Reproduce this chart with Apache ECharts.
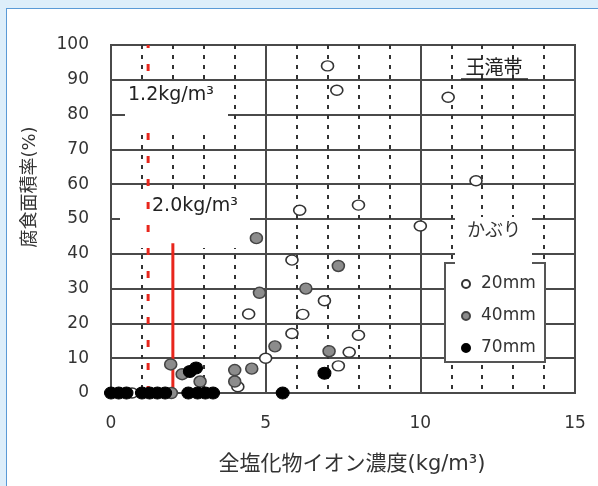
<!DOCTYPE html>
<html>
<head>
<meta charset="utf-8">
<script src="https://cdn.jsdelivr.net/npm/echarts@6/dist/echarts.min.js"></script>
<style>
  body { margin: 0; }
  #wrap { position: relative; width: 598px; height: 486px; background: #ddeefa; overflow: hidden; }
  #panel { position: absolute; left: 6px; top: 8px; width: 600px; height: 490px; background: #fff; border: 1px solid #5a9ad6; }
  #chart { position: absolute; left: 0; top: 0; width: 598px; height: 486px; }
</style>
</head>
<body>
<div id="wrap">
  <div id="panel"></div>
  <div id="chart"></div>
</div>
<script>
// かぶり 20mm / 40mm / 70mm  [全塩化物イオン濃度, 腐食面積率]
var cover20 = [
  [7.0, 94], [7.3, 87], [10.9, 85], [11.8, 61], [8.0, 54], [6.1, 52.5], [10.0, 48],
  [5.85, 38.2], [6.9, 26.5], [6.2, 22.6], [4.45, 22.7], [5.85, 17.1], [8.0, 16.6],
  [5.0, 10], [7.7, 11.7], [7.35, 7.8], [4.1, 1.8], [0.68, 0]
];
var cover40 = [
  [4.7, 44.5], [4.8, 28.8], [6.3, 30], [7.35, 36.5], [5.3, 13.4], [7.05, 12],
  [4.0, 6.6], [4.55, 7], [4.0, 3.3], [1.93, 8.2], [2.3, 5.4], [2.88, 3.3], [1.95, 0]
];
var cover70 = [
  [0, 0], [0.25, 0], [0.5, 0], [1.0, 0], [1.25, 0], [1.5, 0], [1.75, 0],
  [2.5, 0], [2.8, 0], [3.05, 0], [3.3, 0], [5.55, 0], [6.9, 5.7], [2.55, 6.2], [2.75, 7.2]
];
// 基準線 1.2kg/m3 (破線) と 2.0kg/m3 (実線)
var limit12 = [[1.2, 0], [1.2, 100]];
var limit20 = [[2.0, 0], [2.0, 43]];

var seriesNames = ['20mm', '40mm', '70mm'];
var xTicks = { min: 0, max: 15, step: 5 };
var yTicks = { min: 0, max: 100, step: 10 };

var numFont = 'DejaVu Sans';
var jpFont = 'DejaVu Sans, Noto Sans CJK JP';

var myChart = echarts.init(document.getElementById('chart'));

myChart.setOption({
  animation: false,
  grid: {
    left: 111, right: 23, top: 45, bottom: 93,
    show: true, borderColor: '#4a4a4a', borderWidth: 2, backgroundColor: 'transparent'
  },
  xAxis: {
    type: 'value', min: xTicks.min, max: xTicks.max, interval: xTicks.step,
    axisLine: { show: true, lineStyle: { color: '#4a4a4a', width: 2 } },
    axisTick: { show: false },
    axisLabel: { margin: 22, color: '#333', fontSize: 17, fontFamily: numFont },
    splitLine: { show: true, lineStyle: { color: '#4a4a4a', width: 2 } },
    minorTick: { show: false, splitNumber: 5 },
    minorSplitLine: { show: true, lineStyle: { color: '#333', width: 2, type: [4, 6] } }
  },
  yAxis: {
    type: 'value', min: yTicks.min, max: yTicks.max, interval: yTicks.step,
    axisLine: { show: true, lineStyle: { color: '#4a4a4a', width: 2 } },
    axisTick: { show: false },
    axisLabel: { margin: 22, color: '#333', fontSize: 17, fontFamily: numFont },
    splitLine: { show: true, lineStyle: { color: '#4a4a4a', width: 2 } }
  },
  legend: {
    data: seriesNames,
    orient: 'vertical',
    left: 461, top: 275, padding: 0,
    itemWidth: 8, itemHeight: 8, itemGap: 14,
    z: 8,
    textStyle: { color: '#333', fontSize: 17, lineHeight: 18, fontFamily: numFont, padding: [0, 0, 0, 6] }
  },
  graphic: [
    // 凡例の枠
    { type: 'rect', z: 4, shape: { x: 445, y: 263, width: 100, height: 99 },
      style: { fill: '#fff', stroke: '#555', lineWidth: 2 } },
    // ラベルの白地
    { type: 'rect', z: 6, shape: { x: 125, y: 84, width: 103, height: 47 }, style: { fill: '#fff' } },
    { type: 'rect', z: 2, shape: { x: 120, y: 194, width: 130, height: 54 }, style: { fill: '#fff' } },
    { type: 'rect', z: 6, shape: { x: 455, y: 217, width: 77, height: 49 }, style: { fill: '#fff' } },
    { type: 'text', z: 7, x: 128, y: 95,
      style: { text: '1.2kg/m³', fill: '#222', fontSize: 19, fontFamily: numFont, align: 'left', verticalAlign: 'middle' } },
    { type: 'text', z: 7, x: 152, y: 206,
      style: { text: '2.0kg/m³', fill: '#222', fontSize: 19, fontFamily: numFont, align: 'left', verticalAlign: 'middle' } },
    { type: 'text', z: 7, x: 494, y: 69,
      style: { text: '王滝帯', fill: '#222', fontSize: 19, fontFamily: jpFont, align: 'center', verticalAlign: 'middle' } },
    { type: 'line', z: 7, shape: { x1: 461, y1: 79, x2: 528, y2: 79 }, style: { stroke: '#222', lineWidth: 1.5 } },
    { type: 'text', z: 7, x: 494, y: 231,
      style: { text: 'かぶり', fill: '#333', fontSize: 18, fontFamily: jpFont, align: 'center', verticalAlign: 'middle' } },
    // 軸名
    { type: 'text', z: 7, x: 30, y: 187, rotation: Math.PI / 2,
      style: { text: '腐食面積率(%)', fill: '#333', fontSize: 18, fontFamily: jpFont, align: 'center', verticalAlign: 'middle' } },
    { type: 'text', z: 7, x: 352, y: 465,
      style: { text: '全塩化物イオン濃度(kg/m³)', fill: '#333', fontSize: 21, fontFamily: jpFont, align: 'center', verticalAlign: 'middle' } }
  ],
  series: [
    {
      name: 'limit12', type: 'line', data: limit12, z: 3, symbol: 'none', silent: true,
      lineStyle: { color: '#e8261c', width: 3, type: [7, 16] }
    },
    {
      name: 'limit20', type: 'line', data: limit20, z: 3, symbol: 'none', silent: true,
      lineStyle: { color: '#e8261c', width: 3 }
    },
    {
      name: '20mm', type: 'scatter', data: cover20, z: 9, clip: false,
      symbol: 'circle', symbolSize: [12, 10],
      itemStyle: { color: '#fff', borderColor: '#333', borderWidth: 1.5, opacity: 1 }
    },
    {
      name: '40mm', type: 'scatter', data: cover40, z: 9, clip: false,
      symbol: 'circle', symbolSize: [12, 11],
      itemStyle: { color: '#8c8c8c', borderColor: '#444', borderWidth: 1.5, opacity: 1 }
    },
    {
      name: '70mm', type: 'scatter', data: cover70, z: 9, clip: false,
      symbol: 'circle', symbolSize: [13, 12],
      itemStyle: { color: '#000', borderColor: '#000', borderWidth: 1, opacity: 1 }
    }
  ]
});
</script>
</body>
</html>
